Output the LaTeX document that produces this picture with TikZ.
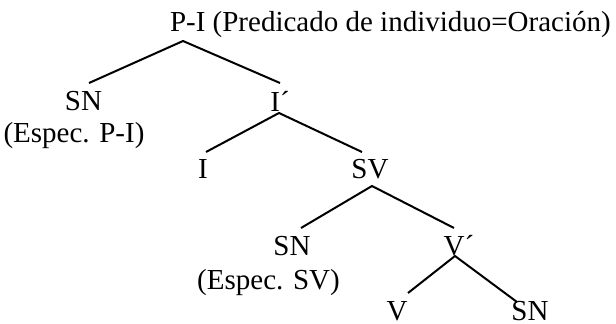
\documentclass[tikz,border=0pt]{standalone}
\usepackage{fontspec}
\setmainfont{Liberation Serif}
\begin{document}
\begin{tikzpicture}[x=1pt,y=-1pt,
  lab/.style={inner sep=0pt,outer sep=0pt,anchor=base,font=\fontsize{29}{33}\selectfont},
  branch/.style={line width=2pt}]
\useasboundingbox (0,0) rectangle (616,324);
% labels
\node[lab,anchor=base west] (pi) at (170,31) {P-I (Predicado de individuo=Oración)};
\node[lab] (sn1) at (83.5,110) {SN};
\node[lab] (esp1) at (74,142) {(Espec. P-I)};
\node[lab] (ib) at (280,111) {I´};
\node[lab] (i) at (203,178) {I};
\node[lab] (sv) at (370,178) {SV};
\node[lab] (sn2) at (292,255) {SN};
\node[lab] (esp2) at (268.5,289) {(Espec. SV)};
\node[lab] (vb) at (459,255) {V´};
\node[lab] (v) at (397,320) {V};
\node[lab] (sn3) at (530,320) {SN};
% branch points
\coordinate (pi-a) at (183,41);
\coordinate (sn1-t) at (89,83);
\coordinate (ib-t) at (280,83);
\coordinate (ib-a) at (279,113);
\coordinate (i-t) at (206,152);
\coordinate (sv-t) at (362,152);
\coordinate (sv-a) at (372,186);
\coordinate (sn2-t) at (301,228);
\coordinate (vb-t) at (454,228);
\coordinate (vb-a) at (455,256);
\coordinate (v-t) at (408,293);
\coordinate (sn3-t) at (517,302);
\draw[branch] (sn1-t) -- (pi-a) -- (ib-t);
\draw[branch] (i-t) -- (ib-a) -- (sv-t);
\draw[branch] (sn2-t) -- (sv-a) -- (vb-t);
\draw[branch] (v-t) -- (vb-a) -- (sn3-t);
\end{tikzpicture}
\end{document}
